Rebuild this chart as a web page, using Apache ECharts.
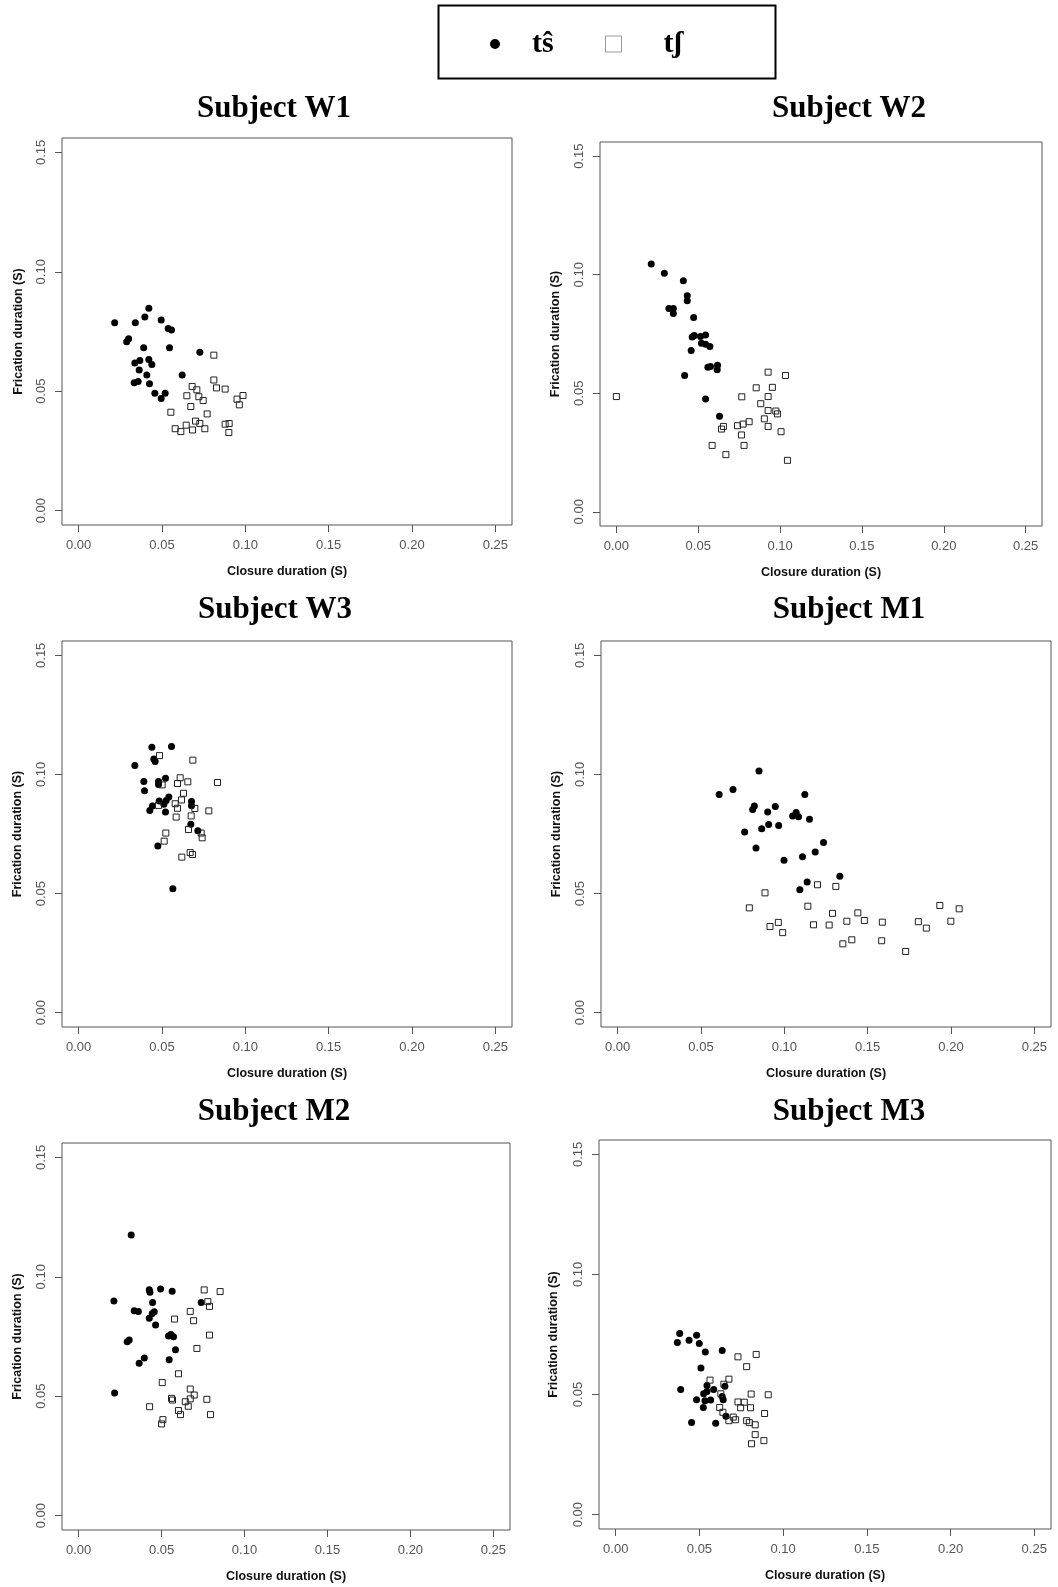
<!DOCTYPE html>
<html>
<head>
<meta charset="utf-8">
<script src="https://cdn.jsdelivr.net/npm/echarts@6/dist/echarts.min.js"></script>
<style>
html, body { margin: 0; padding: 0; background: #fff; }
#main { width: 1058px; height: 1587px; }
</style>
</head>
<body>
<div id="main"></div>
<script>
// tick values shared by every panel
var xTicks = [0, 0.05, 0.10, 0.15, 0.20, 0.25];
var yTicks = [0, 0.05, 0.10, 0.15];
var seriesNames = ['t\u015D', 't\u0283'];   // tŝ , tʃ
var subjects = ['Subject W1', 'Subject W2', 'Subject W3', 'Subject M1', 'Subject M2', 'Subject M3'];

// [closure, frication] in seconds
var w1Ts = [[0.0216,0.0787],[0.034,0.0787],[0.0397,0.0811],[0.0421,0.0847],[0.0495,0.0798],[0.0537,0.0763],[0.0557,0.0756],[0.0288,0.0707],[0.030,0.072],[0.039,0.0682],[0.0545,0.0682],[0.0727,0.0663],[0.0337,0.0618],[0.0367,0.0629],[0.0421,0.0633],[0.0439,0.0612],[0.0363,0.0589],[0.0409,0.0568],[0.0621,0.0568],[0.0333,0.0535],[0.0357,0.0541],[0.0425,0.0531],[0.0457,0.0491],[0.0519,0.0491],[0.0495,0.047]];
var w1Tsh = [[0.0811,0.0651],[0.0811,0.0547],[0.0681,0.052],[0.0709,0.0506],[0.0827,0.0514],[0.0879,0.0509],[0.0649,0.0481],[0.0721,0.0477],[0.0747,0.0461],[0.0673,0.0436],[0.095,0.0467],[0.0986,0.0482],[0.0964,0.0443],[0.0553,0.0412],[0.0771,0.0405],[0.0701,0.0375],[0.0727,0.0365],[0.0645,0.0358],[0.0579,0.0343],[0.0613,0.0331],[0.0683,0.0338],[0.0757,0.0343],[0.0879,0.0362],[0.0903,0.0365],[0.0901,0.0327]];

var w2Ts = [[0.0213,0.1045],[0.0293,0.1006],[0.0409,0.0975],[0.0433,0.0911],[0.0433,0.089],[0.0321,0.0858],[0.0348,0.0858],[0.0348,0.0837],[0.0472,0.082],[0.0463,0.0737],[0.0476,0.0744],[0.0514,0.0739],[0.0545,0.0746],[0.052,0.0711],[0.0545,0.0707],[0.0571,0.0697],[0.0457,0.068],[0.0559,0.061],[0.0575,0.0613],[0.0618,0.0618],[0.0616,0.0599],[0.0417,0.0575],[0.0545,0.0476],[0.063,0.0403]];
var w2Tsh = [[0.0,0.0486],[0.0927,0.0589],[0.1033,0.0575],[0.0854,0.0523],[0.0953,0.0525],[0.0766,0.0485],[0.0927,0.0486],[0.0882,0.0456],[0.0927,0.0427],[0.0974,0.0425],[0.0984,0.0413],[0.0904,0.0392],[0.0811,0.038],[0.0774,0.037],[0.074,0.0363],[0.0654,0.036],[0.0642,0.0349],[0.0927,0.036],[0.0764,0.0324],[0.1006,0.0338],[0.0585,0.028],[0.078,0.028],[0.0669,0.0241],[0.1045,0.0217]];

var w3Ts = [[0.0439,0.1114],[0.0557,0.1117],[0.0337,0.1037],[0.0451,0.1065],[0.0459,0.1054],[0.0391,0.097],[0.0479,0.097],[0.0479,0.0958],[0.0521,0.0984],[0.0395,0.0932],[0.0483,0.0889],[0.0511,0.0875],[0.0525,0.0891],[0.0541,0.0905],[0.0443,0.0867],[0.0427,0.0849],[0.0521,0.0842],[0.0677,0.0886],[0.0677,0.0869],[0.0673,0.0791],[0.0715,0.0764],[0.0475,0.07],[0.0565,0.052]];
var w3Tsh = [[0.0485,0.1079],[0.0685,0.106],[0.0609,0.0986],[0.0593,0.0962],[0.0655,0.0969],[0.0833,0.0966],[0.0501,0.0956],[0.0629,0.0921],[0.0617,0.0893],[0.0579,0.0877],[0.0593,0.0858],[0.0479,0.087],[0.0697,0.0857],[0.0675,0.0826],[0.0585,0.0821],[0.0781,0.0847],[0.0659,0.0769],[0.0523,0.0754],[0.0735,0.0754],[0.0741,0.0734],[0.0513,0.072],[0.0669,0.0672],[0.0683,0.0664],[0.0619,0.0653]];

var m1Ts = [[0.0609,0.0916],[0.0692,0.0937],[0.0848,0.1014],[0.1123,0.0916],[0.081,0.0853],[0.082,0.0867],[0.09,0.0842],[0.0946,0.0865],[0.105,0.0826],[0.1071,0.084],[0.1085,0.0822],[0.1151,0.0812],[0.0906,0.079],[0.0966,0.0786],[0.0762,0.0758],[0.0864,0.0772],[0.083,0.0691],[0.1235,0.0714],[0.1185,0.0674],[0.1109,0.0654],[0.0998,0.064],[0.1333,0.0573],[0.1137,0.0549],[0.1093,0.0516]];
var m1Tsh = [[0.1199,0.0537],[0.1309,0.053],[0.0884,0.0503],[0.079,0.044],[0.1141,0.0447],[0.1933,0.045],[0.2049,0.0436],[0.1289,0.0417],[0.1441,0.0419],[0.1375,0.0384],[0.148,0.0387],[0.1588,0.038],[0.0964,0.0379],[0.0914,0.0362],[0.1175,0.0369],[0.1269,0.0368],[0.1804,0.0382],[0.1852,0.0355],[0.1999,0.0384],[0.099,0.0336],[0.1351,0.0289],[0.1405,0.0306],[0.1584,0.0302],[0.1728,0.0257]];

var m2Ts = [[0.0317,0.1175],[0.0213,0.0899],[0.0426,0.0946],[0.043,0.0935],[0.0494,0.0949],[0.0564,0.0939],[0.0446,0.0892],[0.0739,0.0892],[0.0335,0.0858],[0.036,0.0855],[0.0456,0.0854],[0.0444,0.0846],[0.0426,0.0826],[0.0464,0.0798],[0.0542,0.0752],[0.0556,0.0758],[0.0572,0.0749],[0.0293,0.0728],[0.0305,0.0735],[0.0584,0.0695],[0.0396,0.066],[0.0365,0.0638],[0.0546,0.0653],[0.0217,0.0513]];
var m2Tsh = [[0.0757,0.0945],[0.0853,0.0938],[0.0779,0.0896],[0.0789,0.0876],[0.0673,0.0855],[0.0578,0.0823],[0.0693,0.0816],[0.0789,0.0756],[0.0713,0.07],[0.0602,0.0594],[0.0504,0.0557],[0.0673,0.053],[0.0697,0.0505],[0.056,0.0491],[0.0566,0.0484],[0.0673,0.0489],[0.0643,0.0477],[0.0773,0.0487],[0.0428,0.0456],[0.0602,0.044],[0.0661,0.0458],[0.0614,0.0423],[0.0795,0.0423],[0.0508,0.0402],[0.05,0.0384]];

var m3Ts = [[0.0382,0.0754],[0.0368,0.0717],[0.0438,0.0726],[0.0483,0.0747],[0.0499,0.0713],[0.0535,0.0677],[0.0636,0.0683],[0.0509,0.0611],[0.0388,0.0521],[0.0545,0.0538],[0.0652,0.0535],[0.0585,0.0521],[0.0525,0.0503],[0.0545,0.0513],[0.0636,0.0492],[0.0642,0.0478],[0.0483,0.0478],[0.0533,0.0474],[0.0567,0.0477],[0.0523,0.0446],[0.0658,0.041],[0.0453,0.0384],[0.0597,0.038]];
var m3Tsh = [[0.073,0.0657],[0.0839,0.0667],[0.0782,0.0616],[0.0563,0.056],[0.0676,0.0564],[0.0646,0.0543],[0.0628,0.0503],[0.0809,0.0502],[0.0911,0.0499],[0.073,0.0469],[0.0768,0.0468],[0.0746,0.0445],[0.0805,0.0445],[0.0621,0.0446],[0.064,0.0426],[0.0889,0.0421],[0.0702,0.0406],[0.0716,0.0395],[0.0676,0.0391],[0.0782,0.0391],[0.0798,0.0383],[0.0833,0.0374],[0.0833,0.0333],[0.0885,0.0308],[0.0811,0.0295]];

var tsData = [w1Ts, w2Ts, w3Ts, m1Ts, m2Ts, m3Ts];
var tshData = [w1Tsh, w2Tsh, w3Tsh, m1Tsh, m2Tsh, m3Tsh];

// plot boxes [left, top, width, height] and title centres
var boxes = [[62,138,450,387],[600,142,442,384],[62,641,450,386],[601,641,450,386],[62,1143,448,387],[599,1140,452,389]];
var titlePos = [[274,93],[849,93],[275,594],[849,594],[274,1096],[849,1096]];
var yNameGap = [37,38,38,38,38,39];

var myChart = echarts.init(document.getElementById('main'));

var fmt = function (v) { return v.toFixed(2); };
var titles = [], grids = [], xAxes = [], yAxes = [], series = [];

for (var i = 0; i < 6; i++) {
    titles.push({
        text: subjects[i],
        left: titlePos[i][0],
        top: titlePos[i][1],
        textAlign: 'center',
        padding: 0,
        textStyle: { fontFamily: 'Liberation Serif', fontWeight: 'bold', fontSize: 31, color: '#000' }
    });
    grids.push({
        left: boxes[i][0], top: boxes[i][1], width: boxes[i][2], height: boxes[i][3],
        show: true, borderColor: '#555', borderWidth: 1, backgroundColor: 'transparent'
    });
    xAxes.push({
        type: 'value', gridIndex: i, min: -0.01, max: 0.26,
        name: 'Closure duration (S)', nameLocation: 'middle', nameGap: 40,
        nameTextStyle: { fontFamily: 'Liberation Sans', fontWeight: 'bold', fontSize: 12.5, color: '#111' },
        axisLine: { show: false, onZero: false },
        axisTick: { show: true, customValues: xTicks, length: 7, lineStyle: { color: '#555' } },
        axisLabel: { customValues: xTicks, formatter: fmt, margin: 14,
            fontFamily: 'Liberation Sans', fontSize: 13, color: '#555' },
        splitLine: { show: false }
    });
    yAxes.push({
        type: 'value', gridIndex: i, min: -0.006, max: 0.156,
        name: 'Frication duration (S)', nameLocation: 'middle', nameGap: yNameGap[i],
        nameTextStyle: { fontFamily: 'Liberation Sans', fontWeight: 'bold', fontSize: 12.5, color: '#111' },
        axisLine: { show: false, onZero: false },
        axisTick: { show: true, customValues: yTicks, length: 7, lineStyle: { color: '#555' } },
        axisLabel: { customValues: yTicks, formatter: fmt, rotate: 90, margin: 14,
            fontFamily: 'Liberation Sans', fontSize: 13, color: '#555' },
        splitLine: { show: false }
    });
    series.push({
        name: seriesNames[0], type: 'scatter', xAxisIndex: i, yAxisIndex: i,
        symbol: 'circle', symbolSize: 7,
        itemStyle: { color: '#000', opacity: 1 },
        data: tsData[i]
    });
    series.push({
        name: seriesNames[1], type: 'scatter', xAxisIndex: i, yAxisIndex: i,
        symbol: 'rect', symbolSize: 6,
        itemStyle: { color: 'rgba(255,255,255,0)', borderColor: '#222', borderWidth: 1, opacity: 1 },
        data: tshData[i]
    });
}

var option = {
    animation: false,
    backgroundColor: '#fff',
    title: titles,
    legend: [
        {
            data: [{ name: seriesNames[0], icon: 'circle' }],
            left: 490, top: 29, padding: 0, itemWidth: 10, itemHeight: 10,
            selectedMode: false,
            textStyle: { fontFamily: 'Liberation Serif', fontWeight: 'bold', fontSize: 30, lineHeight: 30, color: '#000', padding: [0, 0, 0, 27] }
        },
        {
            data: [{ name: seriesNames[1], icon: 'rect', itemStyle: { color: '#fff', borderColor: '#999', borderWidth: 1 } }],
            left: 605, top: 29, padding: 0, itemWidth: 16, itemHeight: 16,
            selectedMode: false,
            textStyle: { fontFamily: 'Liberation Serif', fontWeight: 'bold', fontSize: 30, lineHeight: 30, color: '#000', padding: [0, 0, 0, 37] }
        }
    ],
    graphic: [{
        type: 'rect', left: 436, top: 3, silent: true,
        shape: { width: 337, height: 73 },
        style: { fill: 'none', stroke: '#000', lineWidth: 2 }
    }],
    grid: grids,
    xAxis: xAxes,
    yAxis: yAxes,
    series: series
};

myChart.setOption(option);
</script>
</body>
</html>
